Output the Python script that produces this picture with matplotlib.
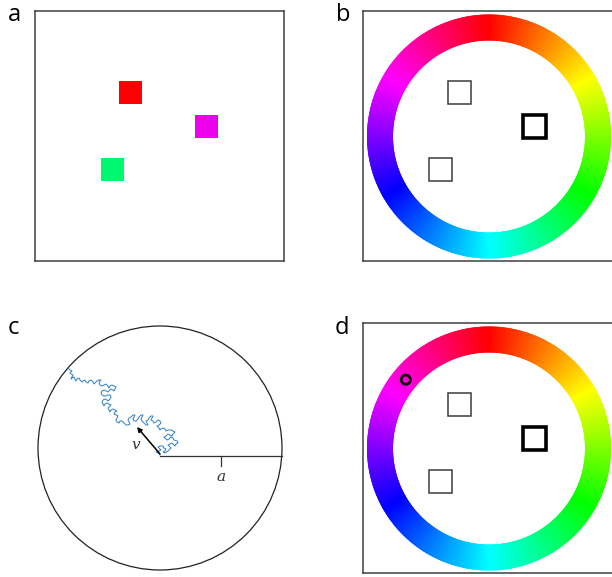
import colorsys
import numpy as np
import matplotlib
matplotlib.use('Agg')
import matplotlib.pyplot as plt
from matplotlib.patches import Rectangle, Wedge, Circle

# ---------------------------------------------------------------
# data (panel boxes are 250 units wide, y pointing up)
# ---------------------------------------------------------------
sq_x = [96, 171.5, 77.5]          # square centres
sq_y = [168.5, 134.5, 92]
sq_colors = ['#FF0000', '#EE00EE', '#00F870']   # panel a colours
target_idx = 1                    # thick square in b and d
sq_size = 23

wheel_cx, wheel_cy = 126, 124.5
wheel_rout, wheel_rin = 122, 96
cue_hue = 0.86                    # probe ring in panel d

# panel c: random walk (circle centre = 0,0 ; radius a = 122)
walk = [(0, -7), (-2, -5), (-4, -4), (-1, -3), (1, -2), (-1, 0), (-2, 1), (0, 2), (3, 2),
        (4, 0), (6, -1), (5, -3), (3, -4), (5, -5), (8, -3), (10, -1), (11, 0), (9, 2),
        (8, 3), (10, 4), (12, 5), (14, 3), (15, 2), (16, 4), (18, 5), (17, 7), (14, 8),
        (13, 10), (11, 11), (9, 9), (7, 8), (5, 10), (4, 11), (6, 12), (8, 14), (10, 13),
        (12, 12), (13, 14), (15, 16), (13, 17), (11, 18), (8, 18), (6, 17), (5, 19),
        (3, 20), (1, 19), (0, 18),
        (-1, 20), (-3, 22), (-1, 23), (1, 25), (0, 27), (-2, 28), (-4, 26), (-6, 25),
        (-7, 27), (-9, 28), (-8, 30), (-7, 32), (-9, 32), (-11, 30), (-12, 28), (-14, 27),
        (-13, 25), (-12, 23), (-14, 23), (-16, 25), (-18, 27), (-19, 29), (-18, 31),
        (-17, 33), (-19, 33), (-21, 31), (-22, 29), (-24, 27), (-26, 27), (-27, 29),
        (-26, 31), (-25, 33), (-27, 33), (-29, 31), (-31, 30), (-32, 28), (-31, 26),
        (-30, 24), (-32, 23), (-34, 23), (-36, 25), (-38, 27), (-40, 27), (-41, 25),
        (-43, 26), (-44, 28), (-43, 30), (-42, 32), (-44, 33), (-46, 34), (-45, 36),
        (-43, 37), (-45, 38), (-47, 39), (-49, 38), (-50, 36), (-51, 38), (-52, 40),
        (-50, 42), (-49, 43), (-51, 44), (-53, 45), (-55, 44), (-56, 42), (-57, 44),
        (-58, 46), (-57, 48), (-55, 49), (-53, 48), (-52, 47), (-50, 49), (-49, 51),
        (-50, 53), (-52, 53), (-54, 52), (-56, 52), (-58, 53), (-59, 55), (-58, 57),
        (-56, 58), (-54, 57), (-52, 56), (-50, 58), (-49, 59), (-47, 58), (-46, 57),
        (-45, 59), (-44, 61), (-46, 62), (-48, 63), (-50, 62), (-51, 60), (-52, 62),
        (-54, 64), (-56, 63), (-58, 62), (-60, 63), (-61, 65), (-60, 67), (-59, 68),
        (-61, 68), (-63, 67), (-65, 65), (-66, 64), (-67, 66), (-69, 68), (-71, 67),
        (-72, 65), (-74, 66), (-75, 68), (-77, 67), (-78, 66), (-80, 68), (-81, 70),
        (-83, 69), (-84, 67), (-85, 69), (-86, 71), (-88, 70), (-89, 69), (-88, 71),
        (-87, 73), (-89, 74), (-90, 75), (-89, 76), (-88, 77), (-90, 78), (-92, 80)]
walk_x = [p[0] for p in walk]
walk_y = [p[1] for p in walk]
radius_a = 122
line_y = -8
v_tip = (-23, 21)

W, H = 612, 577
fig = plt.figure(figsize=(W / 100, H / 100), dpi=100)


def px_axes(left, top, width, height):
    return fig.add_axes([left / W, 1 - (top + height) / H, width / W, height / H])


def box_panel(left, top, width):
    ax = px_axes(left, top, width, 250)
    ax.set_xlim(0, width)
    ax.set_ylim(0, 250)
    ax.set_xticks([])
    ax.set_yticks([])
    for s in ax.spines.values():
        s.set_color('#404040')
        s.set_linewidth(1.1)
    return ax


def draw_wheel(ax):
    for i in range(360):
        h = i / 360
        ax.add_patch(Wedge((wheel_cx, wheel_cy), wheel_rout, 90 - i - 1.6, 90 - i + 0.6,
                           width=wheel_rout - wheel_rin,
                           facecolor=colorsys.hsv_to_rgb(h, 1, 1), edgecolor='none'))


def draw_outlines(ax):
    for i, (x, y) in enumerate(zip(sq_x, sq_y)):
        thick = i == target_idx
        ax.add_patch(Rectangle((x - sq_size / 2, y - sq_size / 2), sq_size, sq_size,
                               facecolor='white',
                               edgecolor='black' if thick else '#3c3c3c',
                               linewidth=2.6 if thick else 1.1))


# a
ax_a = box_panel(35, 11, 249)
for x, y, c in zip(sq_x, sq_y, sq_colors):
    ax_a.add_patch(Rectangle((x - sq_size / 2, y - sq_size / 2), sq_size, sq_size,
                             facecolor=c, edgecolor='none'))

# b
ax_b = box_panel(363, 11, 250)
draw_wheel(ax_b)
draw_outlines(ax_b)

# d
ax_d = box_panel(363, 323, 250)
draw_wheel(ax_d)
draw_outlines(ax_d)
ang = np.deg2rad(cue_hue * 360)
rmid = (wheel_rout + wheel_rin) / 2 - 1
ax_d.add_patch(Circle((wheel_cx + rmid * np.sin(ang), wheel_cy + rmid * np.cos(ang)), 4.6,
                      facecolor='none', edgecolor='black', linewidth=1.9))

# c
ax_c = px_axes(0, 300, 300, 277)
ax_c.set_xlim(-160, 140)
ax_c.set_ylim(448 - 577, 448 - 300)
ax_c.axis('off')
ax_c.add_patch(Circle((0, 0), radius_a, facecolor='none', edgecolor='#222222', linewidth=0.9))
ax_c.plot(walk_x, walk_y, color='#2f7fc1', linewidth=0.7)
xe = np.sqrt(radius_a ** 2 - line_y ** 2)
ax_c.plot([0, xe], [line_y, line_y], color='#333333', linewidth=0.9)
ax_c.plot([xe / 2, xe / 2], [line_y, line_y - 10], color='#333333', linewidth=0.9)
ax_c.text(xe / 2, line_y - 21, 'a', family='DejaVu Serif', style='italic',
          fontsize=11, ha='center', va='center', color='#333333')
ax_c.annotate('', xy=v_tip, xytext=(0, -6),
              arrowprops=dict(arrowstyle='-|>', color='black', lw=1.1, mutation_scale=7,
                              shrinkA=0, shrinkB=0))
ax_c.text(-24, 3, 'v', family='DejaVu Serif', style='italic',
          fontsize=11, ha='center', va='center', color='#333333')

# panel letters
for lab, x, y in [('a', 8, 21), ('b', 336, 21), ('c', 8, 334), ('d', 335, 334)]:
    fig.text(x / W, 1 - y / H, lab, fontsize=17, family='Open Sans', color='black',
             ha='left', va='baseline')

fig.savefig('out.png', dpi=100)
